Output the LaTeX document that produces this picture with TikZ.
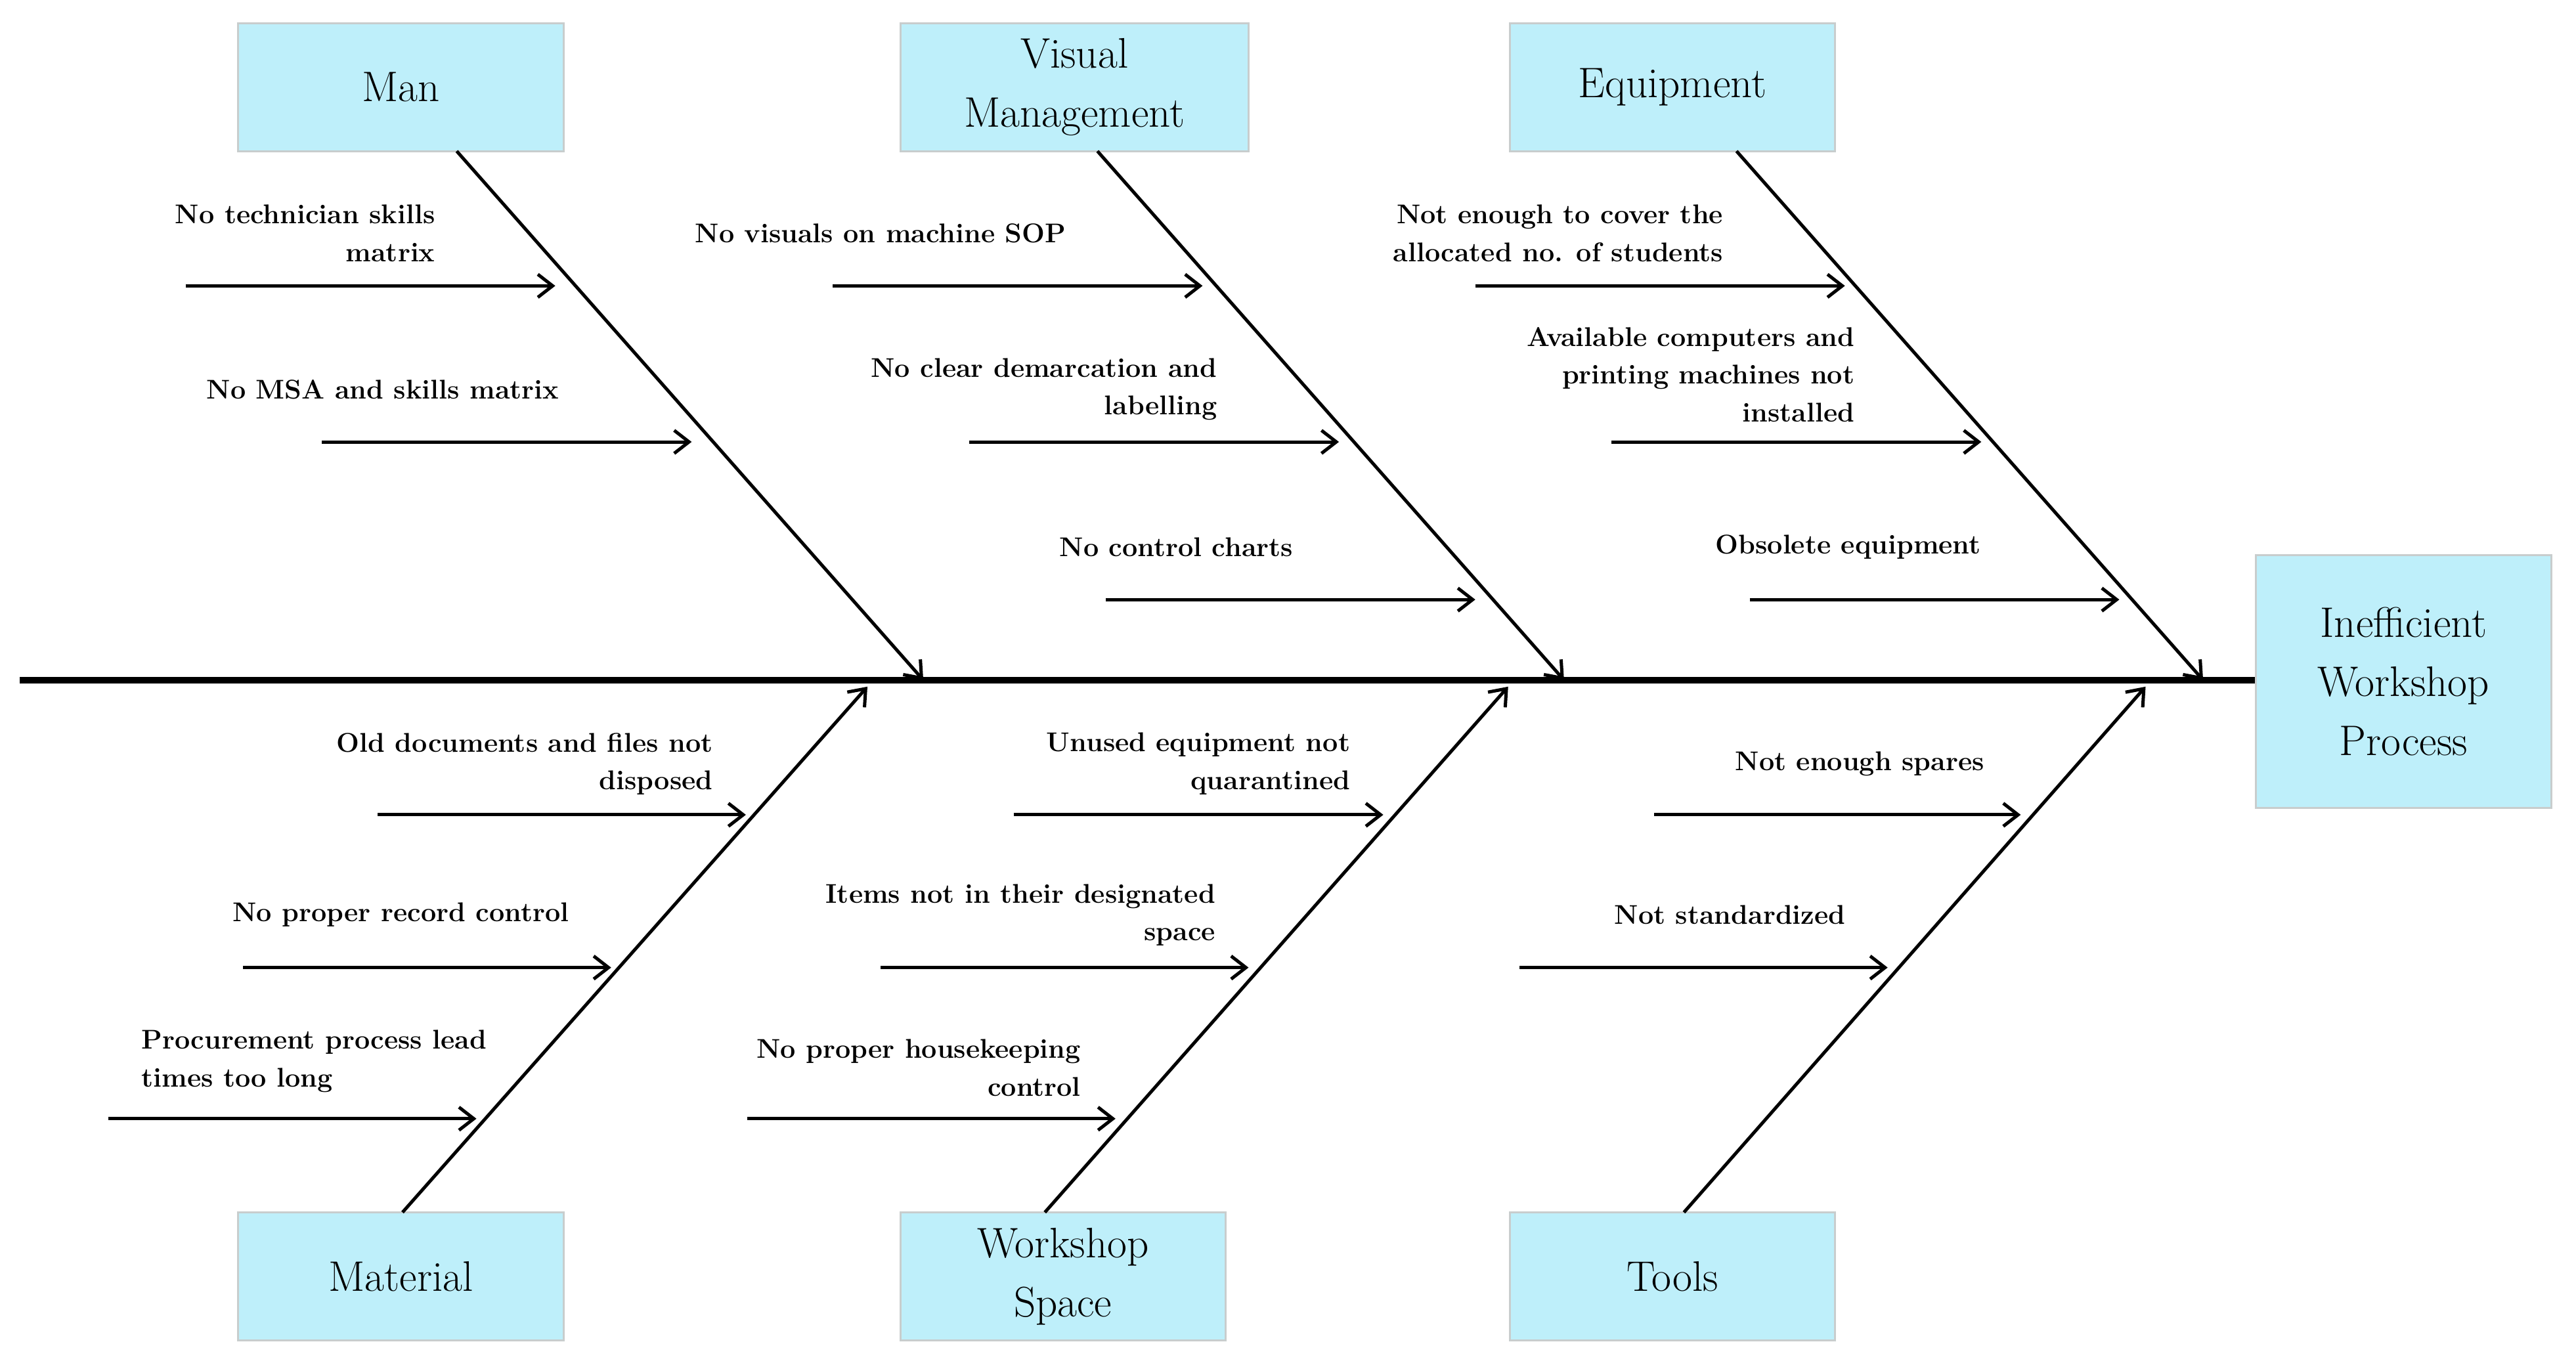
\documentclass[tikz,border=0pt]{standalone}
\usetikzlibrary{arrows.meta}
\begin{document}
\definecolor{boxfill}{RGB}{190,239,250}
\definecolor{boxline}{RGB}{200,205,205}
\begin{tikzpicture}[x=1pt,y=-1pt,
  cat/.style={draw=boxline,line width=1.2pt,fill=boxfill,inner sep=0pt,font=\fontsize{26}{36}\selectfont,align=center},
  lab/.style={font=\bfseries\fontsize{16.5}{23}\selectfont,inner sep=0pt},
  arr/.style={line width=2pt,-{Straight Barb[length=9pt,width=14pt]}},
  bone/.style={line width=2pt}]
\useasboundingbox (0,0) rectangle (1568,832);
\fill[white] (0,0) rectangle (1568,832);
% spine
\node[cat,minimum width=180pt,minimum height=154pt] (head) at (1463,415) {Inefficient\\Workshop\\Process};
\coordinate (tail) at (12,414);
\draw[line width=4pt] (tail) -- (head.west |- tail);
% category boxes
\node[cat,minimum width=198pt,minimum height=78pt] (man) at (244,53) {Man};
\node[cat,minimum width=212pt,minimum height=78pt] (vis) at (654,53) {Visual\\Management};
\node[cat,minimum width=198pt,minimum height=78pt] (equ) at (1018,53) {Equipment};
\node[cat,minimum width=198pt,minimum height=78pt] (mat) at (244,777) {Material};
\node[cat,minimum width=198pt,minimum height=78pt] (ws) at (647,777) {Workshop\\Space};
\node[cat,minimum width=198pt,minimum height=78pt] (tools) at (1018,777) {Tools};
% bones
\coordinate (m1) at (278,92); \coordinate (m2) at (562,414);
\coordinate (v1) at (668,92); \coordinate (v2) at (952,414);
\coordinate (e1) at (1057,92); \coordinate (e2) at (1341,414);
\coordinate (a1) at (245,738); \coordinate (a2) at (528,418);
\coordinate (w1) at (636,738); \coordinate (w2) at (918,418);
\coordinate (t1) at (1025,738); \coordinate (t2) at (1306,418);
\foreach \s/\e in {m1/m2,v1/v2,e1/e2,a1/a2,w1/w2,t1/t2} \draw[arr] (\s) -- (\e);
% sub-causes
\foreach \n/\xa/\xb/\y in {c1/113/338/174,c2/196/421/269,c3/507/732/174,c4/590/815/269,c5/673/898/365,
  c6/898/1123/174,c7/981/1206/269,c8/1065/1290/365,c9/230/454/496,c10/148/372/589,c11/66/290/681,
  c12/617/842/496,c13/536/760/589,c14/455/679/681,c15/1007/1230/496,c16/925/1149/589}{
  \coordinate (\n s) at (\xa,\y); \coordinate (\n e) at (\xb,\y);
  \draw[arr] (\n s) -- (\n e);}
% labels
\node[lab,anchor=east,align=right] (l1) at (265,142) {No technician skills\\matrix};
\node[lab] (l2) at (233,237) {No MSA and skills matrix};
\node[lab] (l3) at (536,142) {No visuals on machine SOP};
\node[lab,anchor=east,align=right] (l4) at (741,237) {No clear demarcation and\\labelling};
\node[lab] (l5) at (716,333) {No control charts};
\node[lab,anchor=east,align=right] (l6) at (1049,142) {Not enough to cover the\\allocated no. of students};
\node[lab,anchor=east,align=right] (l7) at (1129,228) {Available computers and\\printing machines not\\installed};
\node[lab] (l8) at (1125,333) {Obsolete equipment};
\node[lab,anchor=east,align=right] (l9) at (434,465) {Old documents and files not\\disposed};
\node[lab] (l10) at (244,557) {No proper record control};
\node[lab,anchor=west,align=left] (l11) at (86,646) {Procurement process lead\\times too long};
\node[lab,anchor=east,align=right] (l12) at (822,465) {Unused equipment not\\quarantined};
\node[lab,anchor=east,align=right] (l13) at (740,557) {Items not in their designated\\space};
\node[lab,anchor=east,align=right] (l14) at (658,650) {No proper housekeeping\\control};
\node[lab] (l15) at (1132,465) {Not enough spares};
\node[lab] (l16) at (1053,557) {Not standardized};
\end{tikzpicture}
\end{document}
